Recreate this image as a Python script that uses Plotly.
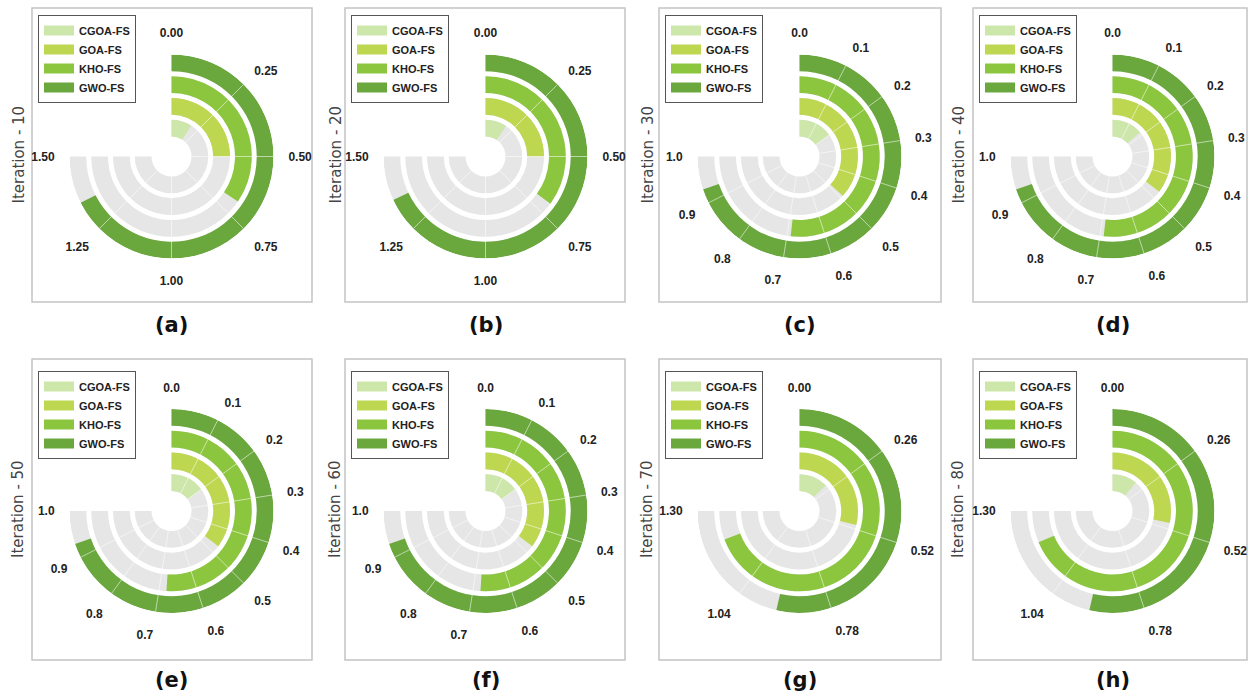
import plotly.graph_objects as go

# ---------------- data ----------------
series_names = ["CGOA-FS", "GOA-FS", "KHO-FS", "GWO-FS"]
panel_labels = ["(a)", "(b)", "(c)", "(d)", "(e)", "(f)", "(g)", "(h)"]
iterations = [10, 20, 30, 40, 50, 60, 70, 80]

cgoa = [0.18, 0.19, 0.20, 0.18, 0.20, 0.20, 0.22, 0.19]
goa = [0.50, 0.50, 0.49, 0.47, 0.47, 0.47, 0.50, 0.49]
kho = [0.69, 0.70, 0.69, 0.69, 0.68, 0.68, 1.20, 1.19]
gwo = [1.35, 1.36, 0.93, 0.93, 0.93, 0.93, 0.93, 0.93]

ticks_a = ["0.00", "0.25", "0.50", "0.75", "1.00", "1.25", "1.50"]
ticks_c = ["0.0", "0.1", "0.2", "0.3", "0.4", "0.5", "0.6", "0.7", "0.8", "0.9", "1.0"]
ticks_g = ["0.00", "0.26", "0.52", "0.78", "1.04", "1.30"]
panel_ticks = [ticks_a, ticks_a, ticks_c, ticks_c, ticks_c, ticks_c, ticks_g, ticks_g]

# ---------------- style ----------------
colors = ["#cde6aa", "#bed750", "#8cc63f", "#6aa83e"]
track_color = "#e6e6e6"
W, H = 1248, 700
SWEEP = 270.0
R_PX = 102
ring_base0, ring_pitch, ring_thick = 0.92, 1.0, 0.77
r_outer = ring_base0 + 3 * ring_pitch + ring_thick

centers_x = [171.5, 485.5, 799.5, 1112.5]
centers_y = [156.5, 511.0]
box_x = [(32, 312), (345, 625), (659, 941), (973, 1247)]
box_y = [(8, 302), (359, 660)]
legend_top = [15, 371]
caption_y = [325, 680]
ytitle_x = [18, 335, 647, 958]


def px(x):
    return x / W


def py(y):
    return 1 - y / H


bold_font = "Liberation Sans, Arial, sans-serif"

fig = go.Figure()
layout_polars = {}
shapes = []
annotations = []
legends = {}

series_vals = [cgoa, goa, kho, gwo]

for p in range(8):
    row, col = divmod(p, 4)
    cx, cy = centers_x[col], centers_y[row]
    pname = "polar" if p == 0 else f"polar{p + 1}"
    lname = "legend" if p == 0 else f"legend{p + 1}"
    ticks = panel_ticks[p]
    tick_vals = [float(t) for t in ticks]
    vmax = tick_vals[-1]
    to_deg = lambda v, m=vmax: v / m * SWEEP

    bases = [ring_base0 + i * ring_pitch for i in range(4)]

    # background tracks
    fig.add_trace(go.Barpolar(
        r=[ring_thick] * 4, base=bases, theta=[SWEEP / 2] * 4, width=[SWEEP] * 4,
        marker=dict(color=track_color, line=dict(width=0)),
        showlegend=False, hoverinfo="skip", subplot=pname,
    ))
    # series bars
    for i, name in enumerate(series_names):
        v = series_vals[i][p]
        d = to_deg(v)
        fig.add_trace(go.Barpolar(
            r=[ring_thick], base=[bases[i]], theta=[d / 2], width=[d],
            marker=dict(color=colors[i], line=dict(width=0)),
            name=name, subplot=pname, showlegend=False,
            hovertemplate=f"{name}: {v}<extra></extra>",
        ))
    # spokes (grid) over bars
    rr, tt = [], []
    for tv in tick_vals[1:-1]:
        rr += [ring_base0, r_outer, None]
        tt += [to_deg(tv), to_deg(tv), None]
    fig.add_trace(go.Scatterpolar(
        r=rr, theta=tt, mode="lines",
        line=dict(color="rgba(255,255,255,0.55)", width=1),
        showlegend=False, hoverinfo="skip", subplot=pname,
    ))
    # legend entries (wide swatches like the reference)
    for i, name in enumerate(series_names):
        fig.add_trace(go.Scatterpolar(
            r=[None], theta=[None], mode="lines",
            line=dict(color=colors[i], width=14),
            name=name, subplot=pname, legend=lname, hoverinfo="skip",
        ))

    layout_polars[pname] = dict(
        domain=dict(x=[px(cx - R_PX), px(cx + R_PX)],
                    y=[py(cy + R_PX), py(cy - R_PX)]),
        bgcolor="rgba(0,0,0,0)",
        radialaxis=dict(visible=False, range=[0, r_outer]),
        angularaxis=dict(
            rotation=90, direction="clockwise",
            tickmode="array", tickvals=[to_deg(t) for t in tick_vals], ticktext=ticks,
            showgrid=False, showline=False,
            ticks="outside", ticklen=12, tickcolor="rgba(0,0,0,0)",
            tickfont=dict(family=bold_font, size=12, color="#222", weight="bold"),
        ),
    )

    legends[lname] = dict(
        x=px(box_x[col][0] + 6), y=py(legend_top[row]),
        xanchor="left", yanchor="top",
        bgcolor="white", bordercolor="#555", borderwidth=1,
        font=dict(family=bold_font, size=11, color="#222", weight="bold"),
        tracegroupgap=0, itemsizing="trace",
    )

    shapes.append(dict(type="rect", xref="paper", yref="paper",
                       x0=px(box_x[col][0]), x1=px(box_x[col][1]),
                       y0=py(box_y[row][1]), y1=py(box_y[row][0]),
                       line=dict(color="#c4c4c4", width=1.5), layer="below"))

    annotations.append(dict(
        text=f"Iteration - {iterations[p]}", textangle=-90,
        x=px(ytitle_x[col]), y=py(cy - 2), xref="paper", yref="paper",
        showarrow=False, xanchor="center", yanchor="middle",
        font=dict(family="DejaVu Sans, sans-serif", size=15, color="#444"),
    ))
    annotations.append(dict(
        text=panel_labels[p], x=px(cx), y=py(caption_y[row]),
        xref="paper", yref="paper", showarrow=False,
        xanchor="center", yanchor="middle",
        font=dict(family="DejaVu Sans, sans-serif", size=21, color="#111", weight="bold"),
    ))

fig.update_layout(
    width=W, height=H, margin=dict(l=0, r=0, t=0, b=0),
    paper_bgcolor="white", plot_bgcolor="white",
    shapes=shapes, annotations=annotations,
    **layout_polars, **legends,
)

fig.write_html(
    "out.html",
    config={"displayModeBar": False},
    post_script="document.body.style.margin='0';document.body.style.overflow='hidden';",
)
